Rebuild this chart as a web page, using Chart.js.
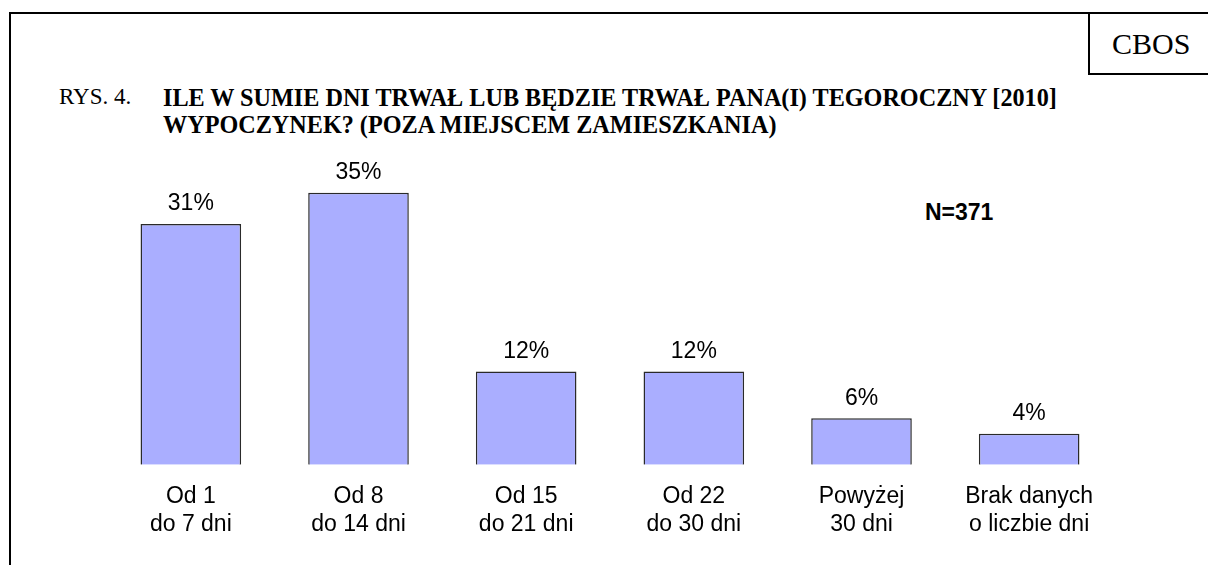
<!DOCTYPE html>
<html>
<head>
<meta charset="utf-8">
<script src="https://cdn.jsdelivr.net/npm/chart.js@4"></script>
<style>
  body { margin: 0; background: #fff; }
  #wrap { position: relative; width: 1208px; height: 565px; overflow: hidden; }
  #frame { position: absolute; left: 9px; top: 12px; width: 1300px; height: 700px; border-left: 2px solid #000; border-top: 2px solid #000; }
  #cbos { position: absolute; left: 1088px; top: 12px; width: 200px; height: 63px; border-left: 2px solid #000; border-bottom: 2px solid #000;
          font: 30px "Liberation Serif", "Times New Roman", serif; line-height: 63px; padding-left: 22px; box-sizing: border-box; }
  .serif { position: absolute; font-family: "Liberation Serif", "Times New Roman", serif; color: #000; white-space: nowrap; }
  #rys { left: 59px; top: 84px; font-size: 23px; }
  #title { left: 163px; top: 84px; font-size: 24.2px; font-weight: bold; line-height: 27px; }
  #n { position: absolute; left: 925px; top: 199px; font: bold 23px "Liberation Sans", Arial, sans-serif; }
  canvas { position: absolute; left: 0; top: 0; }
</style>
</head>
<body>
<div id="wrap">
  <div id="frame"></div>
  <div id="cbos">CBOS</div>
  <div id="rys" class="serif">RYS. 4.</div>
  <div id="title" class="serif">ILE W SUMIE DNI TRWAŁ LUB BĘDZIE TRWAŁ PANA(I) TEGOROCZNY [2010]<br>WYPOCZYNEK? (POZA MIEJSCEM ZAMIESZKANIA)</div>
  <div id="n">N=371</div>
  <canvas id="chart" width="1208" height="565"></canvas>
</div>
<script>
// chart data
const categories = [
  ['Od 1', 'do 7 dni'],
  ['Od 8', 'do 14 dni'],
  ['Od 15', 'do 21 dni'],
  ['Od 22', 'do 30 dni'],
  ['Powyżej', '30 dni'],
  ['Brak danych', 'o liczbie dni']
];
const values = [31, 35, 12, 12, 6, 4];

// draws the "31%" labels above bars
const valueLabels = {
  id: 'valueLabels',
  afterDatasetsDraw(chart) {
    const ctx = chart.ctx;
    const meta = chart.getDatasetMeta(0);
    ctx.save();
    ctx.font = '23px "Liberation Sans", Arial, sans-serif';
    ctx.fillStyle = '#000';
    ctx.textAlign = 'center';
    ctx.textBaseline = 'middle';
    meta.data.forEach((bar, i) => {
      ctx.fillText(values[i] + '%', bar.x, bar.y - 20);
    });
    ctx.restore();
  }
};

new Chart(document.getElementById('chart'), {
  type: 'bar',
  data: {
    labels: categories,
    datasets: [{
      data: values,
      backgroundColor: '#aaaeff',
      borderColor: '#2a2a2a',
      borderWidth: 1.5,
      barPercentage: 0.6,
      categoryPercentage: 1.0
    }]
  },
  options: {
    responsive: false,
    animation: false,
    layout: { padding: { left: 107, right: 95, top: 154, bottom: 17 } },
    plugins: { legend: { display: false }, tooltip: { enabled: false } },
    scales: {
      y: { display: false, min: 0, max: 40 },
      x: {
        grid: { display: false },
        border: { display: false },
        ticks: {
          color: '#000',
          padding: 10,
          maxRotation: 0,
          autoSkip: false,
          font: { family: '"Liberation Sans", Arial, sans-serif', size: 23, lineHeight: 1.2 }
        }
      }
    }
  },
  plugins: [valueLabels]
});
</script>
</body>
</html>
